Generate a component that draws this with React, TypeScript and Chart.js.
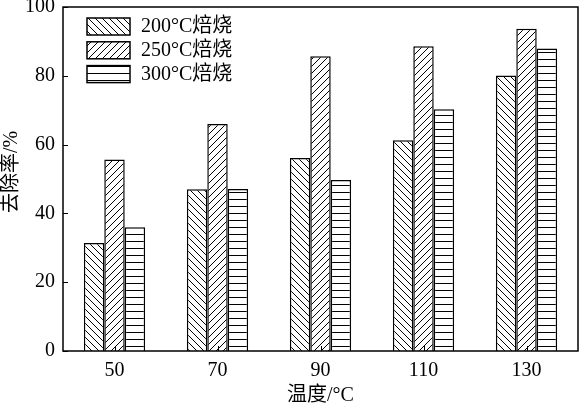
import React, { useEffect, useRef } from "react";
import { Chart, registerables } from "chart.js";
Chart.register(...registerables);

const categories = ["50", "70", "90", "110", "130"];
const series200 = [31.4, 47, 56.1, 61.3, 80.1];
const series250 = [55.7, 66, 85.7, 88.6, 93.7];
const series300 = [36, 47.1, 49.7, 70.3, 87.9];
const seriesLabels = ["200°C焙烧", "250°C焙烧", "300°C焙烧"];
const yTickValues = [0, 20, 40, 60, 80, 100];
const xTitle = "温度/°C";
const yTitle = "去除率/%";

const FONT_FAMILY = "'Liberation Serif', 'Noto Sans CJK SC', serif";

function makePattern(ctx: CanvasRenderingContext2D, kind: string): CanvasPattern {
  const s = 7;
  const c = document.createElement("canvas");
  c.width = s;
  c.height = s;
  const g = c.getContext("2d")!;
  g.fillStyle = "#fff";
  g.fillRect(0, 0, s, s);
  g.strokeStyle = "#000";
  g.fillStyle = "#000";
  g.lineWidth = 1;
  if (kind === "horiz") {
    g.fillRect(0, 3, s, 1);
  } else {
    g.beginPath();
    for (const o of [-s, 0, s]) {
      if (kind === "back") {
        g.moveTo(o, 0);
        g.lineTo(o + s, s);
      } else {
        g.moveTo(o, s);
        g.lineTo(o + s, 0);
      }
    }
    g.stroke();
  }
  return ctx.createPattern(c, "repeat")!;
}

export default function App() {
  const ref = useRef<HTMLCanvasElement>(null);
  useEffect(() => {
    document.body.style.margin = "0";
    const canvas = ref.current!;
    const ctx = canvas.getContext("2d")!;
    const patterns = [makePattern(ctx, "back"), makePattern(ctx, "fwd"), makePattern(ctx, "horiz")];
    const seriesData = [series200, series250, series300];

    const decor = {
      id: "decor",
      afterDatasetsDraw(chart: any) {
        const c = chart.ctx as CanvasRenderingContext2D;
        const { left, right, top, bottom } = chart.chartArea;
        const x = chart.scales.x;
        const y = chart.scales.y;
        c.save();
        c.strokeStyle = "#000";
        c.lineWidth = 1.5;
        c.strokeRect(left, top, right - left, bottom - top);
        c.lineWidth = 1;
        c.beginPath();
        for (const v of yTickValues) {
          const py = Math.round(y.getPixelForValue(v)) + 0.5;
          c.moveTo(left, py);
          c.lineTo(left + 5, py);
        }
        categories.forEach((_, i) => {
          const px = Math.round(x.getPixelForValue(i)) + 0.5;
          c.moveTo(px, bottom);
          c.lineTo(px, bottom - 5);
        });
        c.stroke();

        // legend
        c.font = `20px ${FONT_FAMILY}`;
        c.textBaseline = "middle";
        c.textAlign = "left";
        c.fillStyle = "#000";
        seriesLabels.forEach((lab, i) => {
          const bx = 87;
          const by = 18 + i * 23.8;
          c.fillStyle = patterns[i];
          c.fillRect(bx, by, 43, 17);
          c.lineWidth = 1.5;
          c.strokeRect(bx, by, 43, 17);
          c.fillStyle = "#000";
          c.fillText(lab, 141, by + 9);
        });

        // titles
        c.textAlign = "center";
        c.fillText(xTitle, (left + right) / 2, 396);
        c.translate(12, 172);
        c.rotate(-Math.PI / 2);
        c.fillText(yTitle, 0, 0);
        c.restore();
      },
    };

    const chart = new Chart(canvas, {
      type: "bar",
      data: {
        labels: categories,
        datasets: seriesData.map((d, i) => ({
          label: seriesLabels[i],
          data: d,
          backgroundColor: patterns[i],
          borderColor: "#000",
          borderWidth: 1.5,
          categoryPercentage: 0.595,
          barPercentage: 1,
        })),
      },
      options: {
        responsive: false,
        animation: false,
        layout: { padding: { top: 7, right: 3, left: 0, bottom: 0 } },
        plugins: { legend: { display: false }, tooltip: { enabled: false } },
        scales: {
          x: {
            grid: { display: false, drawTicks: false },
            border: { display: false },
            ticks: { font: { size: 20, family: FONT_FAMILY }, color: "#000", padding: 8 },
            afterFit: (s: any) => {
              s.height = 57;
              s.paddingLeft = 0;
              s.paddingRight = 0;
            },
          },
          y: {
            min: 0,
            max: 100,
            grid: { display: false, drawTicks: false },
            border: { display: false },
            ticks: { stepSize: 20, font: { size: 20, family: FONT_FAMILY }, color: "#000", padding: 8 },
            afterFit: (s: any) => {
              s.width = 63;
              s.paddingTop = 0;
              s.paddingBottom = 0;
            },
          },
        },
      },
      plugins: [decor],
    });
    return () => chart.destroy();
  }, []);
  return <canvas ref={ref} width={581} height={408} style={{ display: "block" }} />;
}
